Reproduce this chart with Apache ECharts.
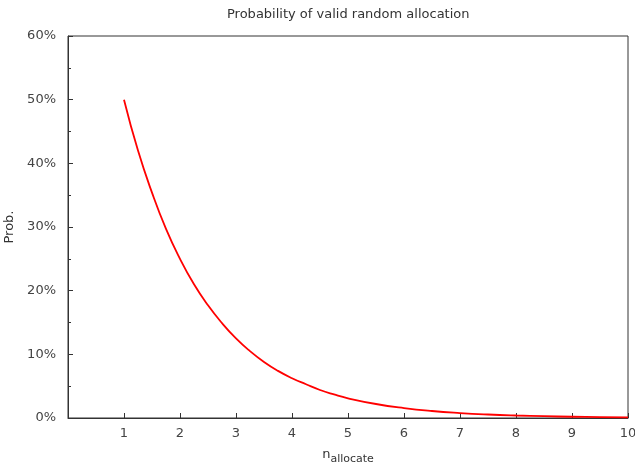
<!DOCTYPE html>
<html>
<head>
<meta charset="utf-8">
<script src="https://cdn.jsdelivr.net/npm/echarts@6/dist/echarts.min.js"></script>
<style>
  html, body { margin: 0; padding: 0; background: #fff; }
  #main { width: 635px; height: 468px; }
</style>
</head>
<body>
<div id="main"></div>
<script>
// n_allocate values and probability (%)
var nAlloc = [1, 1.25, 1.5, 1.75, 2, 2.25, 2.5, 2.75, 3, 3.25, 3.5, 3.75, 4, 4.25, 4.5, 4.75,
  5, 5.5, 6, 6.5, 7, 7.5, 8, 8.5, 9, 9.5, 10];
var prob = [50, 42.0, 35.4, 29.7, 25, 21.0, 17.7, 14.9, 12.5, 10.5, 8.8, 7.4, 6.25, 5.3, 4.4, 3.7,
  3.1, 2.2, 1.56, 1.1, 0.78, 0.55, 0.39, 0.28, 0.2, 0.14, 0.1];
var xTicks = [1, 2, 3, 4, 5, 6, 7, 8, 9, 10];
var yTicks = [0, 10, 20, 30, 40, 50, 60];

var chart = echarts.init(document.getElementById('main'));
var font = 'DejaVu Sans';

var points = nAlloc.map(function (x, i) { return [x, prob[i]]; });

var option = {
  animation: false,
  title: {
    text: 'Probability of valid random allocation',
    left: 222,
    top: 3,
    textStyle: { fontFamily: font, fontSize: 13, fontWeight: 'normal', color: '#333' }
  },
  grid: {
    left: 68, right: 7, top: 36, bottom: 50,
    outerBoundsMode: 'none',
    containLabel: false,
    show: true,
    borderColor: '#333',
    borderWidth: 1
  },
  xAxis: {
    type: 'value',
    min: 0,
    max: 10,
    interval: 1,
    name: '{n|n}{s|allocate}',
    nameLocation: 'middle',
    nameGap: 30,
    nameTextStyle: {
      rich: {
        n: { fontFamily: font, fontSize: 13, color: '#333', padding: [0, 0, 4, 0] },
        s: { fontFamily: font, fontSize: 11, color: '#333', padding: [6, 0, 0, 0] }
      }
    },
    axisLine: { lineStyle: { color: '#333', width: 1 } },
    axisTick: { inside: true, length: 5, lineStyle: { color: '#333' } },
    axisLabel: {
      fontFamily: font, fontSize: 13, color: '#444', margin: 9,
      formatter: function (v) { return xTicks.indexOf(v) >= 0 ? String(v) : ''; }
    },
    splitLine: { show: false }
  },
  yAxis: {
    type: 'value',
    min: 0,
    max: 60,
    interval: 10,
    name: 'Prob.',
    nameLocation: 'middle',
    nameGap: 52,
    nameTextStyle: { fontFamily: font, fontSize: 13, color: '#333' },
    axisLine: { show: true, lineStyle: { color: '#333', width: 1 } },
    axisTick: { inside: true, length: 5, lineStyle: { color: '#333' } },
    minorTick: { show: true, splitNumber: 2, length: 3, lineStyle: { color: '#333' } },
    axisLabel: {
      fontFamily: font, fontSize: 13, color: '#444', margin: 12,
      formatter: function (v) { return yTicks.indexOf(v) >= 0 ? v + '%' : ''; }
    },
    splitLine: { show: false }
  },
  series: [{
    type: 'line',
    data: points,
    smooth: true,
    showSymbol: false,
    lineStyle: { color: '#ff0000', width: 1.8 }
  }]
};

chart.setOption(option);
</script>
</body>
</html>
